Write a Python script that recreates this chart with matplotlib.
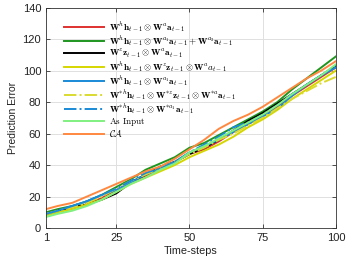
import matplotlib
matplotlib.use("Agg")
import matplotlib.pyplot as plt

plt.rcParams['mathtext.fontset'] = 'cm'
plt.rcParams['font.family'] = ['Liberation Sans', 'DejaVu Sans']

steps = [1, 5, 10, 15, 20, 25, 30, 35, 40, 45, 50, 55, 60, 65, 70, 75, 80, 85, 90, 95, 100]

labels = [
    r'$\mathbf{W}^h\mathbf{h}_{t-1}\otimes\mathbf{W}^a\mathbf{a}_{t-1}$',
    r'$\mathbf{W}^h\mathbf{h}_{t-1}\otimes\mathbf{W}^{a_1}\mathbf{a}_{t-1}+\mathbf{W}^{a_2}\mathbf{a}_{t-1}$',
    r'$\mathbf{W}^z\mathbf{z}_{t-1}\otimes\mathbf{W}^a\mathbf{a}_{t-1}$',
    r'$\mathbf{W}^h\mathbf{h}_{t-1}\otimes\mathbf{W}^z\mathbf{z}_{t-1}\otimes\mathbf{W}^a a_{t-1}$',
    r'$\mathbf{W}^h\mathbf{h}_{t-1}\otimes\mathbf{W}^{a_1}\mathbf{a}_{t-1}$',
    r'$\mathbf{W}^{*h}\mathbf{h}_{t-1}\otimes\mathbf{W}^{*z}\mathbf{z}_{t-1}\otimes\mathbf{W}^{*a}\mathbf{a}_{t-1}$',
    r'$\mathbf{W}^{*h}\mathbf{h}_{t-1}\otimes\mathbf{W}^{*a_1}\mathbf{a}_{t-1}$',
    r'$\mathrm{As\ Input}$',
    r'$\mathcal{CA}$',
]

s_red    = [9, 11, 13, 15, 19, 24, 29, 33, 38, 42, 47, 50, 55, 61, 66, 71, 77, 84, 90, 96, 102]
s_green  = [10, 12, 14, 17, 21, 26, 31, 37, 41, 45, 51, 54, 59, 64, 69, 74, 80, 88, 95, 102, 109]
s_black  = [9, 11, 13, 15, 18, 22, 29, 34, 39, 42, 47, 51, 56, 62, 68, 73, 79, 85, 91, 97, 103]
s_yellow = [8, 10, 12, 15, 18, 23, 28, 32, 36, 40, 45, 49, 53, 58, 64, 69, 75, 82, 88, 94, 100]
s_blue   = [9, 11, 14, 17, 21, 24, 29, 34, 38, 42, 48, 52, 56, 61, 66, 71, 76, 84, 91, 97, 102]
s_ydash  = [9, 11, 13, 16, 20, 25, 30, 34, 38, 42, 47, 51, 56, 60, 65, 70, 76, 82, 87, 92, 96]
s_bdash  = [9, 11, 14, 17, 21, 25, 30, 35, 38, 42, 48, 53, 58, 64, 67, 72, 78, 85, 91, 97, 103]
s_input  = [7, 9, 11, 14, 18, 23, 28, 32, 37, 41, 48, 52, 57, 62, 67, 72, 78, 85, 91, 97, 104]
s_ca     = [12, 14, 16, 20, 24, 28, 32, 36, 39, 44, 50, 56, 63, 68, 72, 77, 83, 89, 95, 100, 106]

series = [s_red, s_green, s_black, s_yellow, s_blue, s_ydash, s_bdash, s_input, s_ca]
colors = ['#e03030', '#1e961e', '#000000', '#d6d600', '#1a8ad8', '#dada30', '#1a8ad8', '#80f080', '#ff8840']
styles = ['-', '-', '-', '-', '-', '-.', '-.', '-', '-']

fig = plt.figure(figsize=(3.47, 2.63), dpi=100)
ax = fig.add_axes([0.1326, 0.133, 0.8354, 0.838])

for y, c, ls, lab in zip(series, colors, styles, labels):
    ax.plot(steps, y, color=c, linestyle=ls, linewidth=1.4, label=lab)

ax.set_xlim(1, 100)
ax.set_ylim(0, 140)
ax.set_xticks([1, 25, 50, 75, 100])
ax.set_yticks([0, 20, 40, 60, 80, 100, 120, 140])
ax.grid(True, color='#e0e0e0', linewidth=0.7)
ax.set_axisbelow(True)
ax.tick_params(direction='in', labelsize=8, length=3, width=0.6, top=True, right=True,
               colors='#333333', labelcolor='#222222')
for sp in ax.spines.values():
    sp.set_linewidth(0.6)
    sp.set_color('#333333')
ax.set_xlabel('Time-steps', fontsize=7.8, labelpad=2, color='#222222')
ax.set_ylabel('Prediction Error', fontsize=7.5, labelpad=3, color='#222222')

leg = ax.legend(loc='upper left', bbox_to_anchor=(0.062, 0.945), fontsize=6.6, frameon=False,
                handlelength=4.4, handletextpad=0.55, labelspacing=0.0, borderaxespad=0,
                borderpad=0)

fig.savefig('out.png', dpi=100)
